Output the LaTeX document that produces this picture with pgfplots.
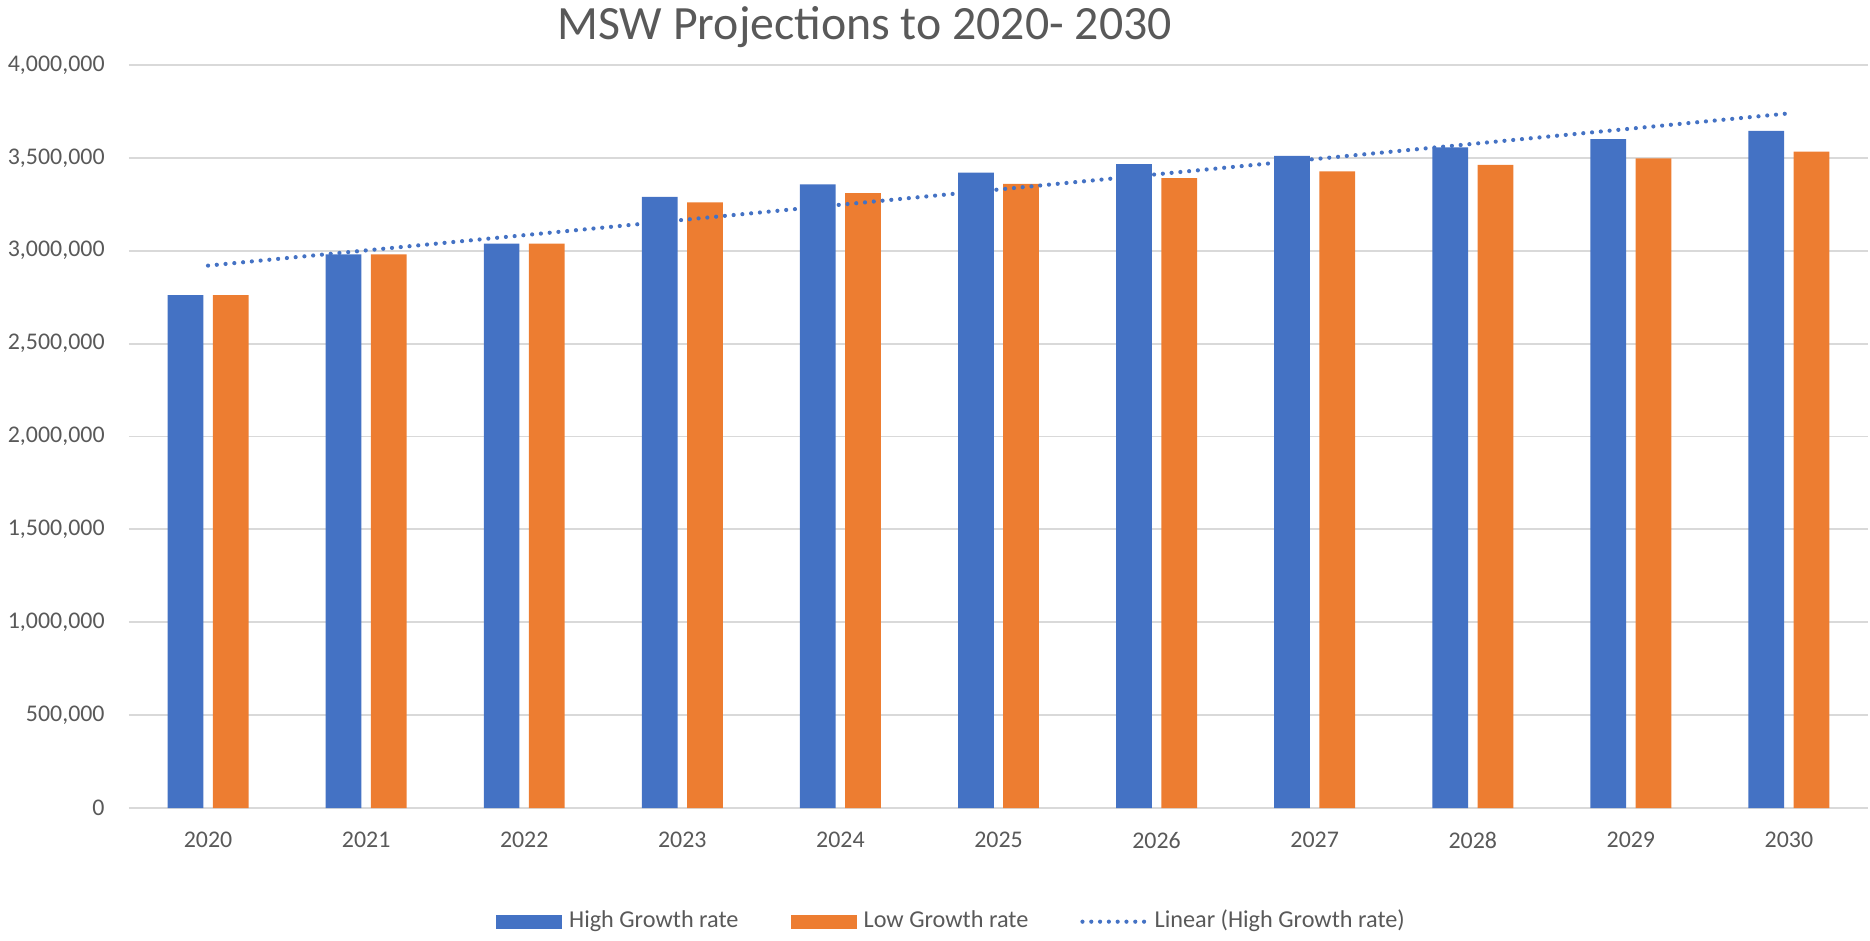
\documentclass[border=0pt]{standalone}
\usepackage{pgfplots}
\pgfplotsset{compat=1.18}
\usepackage{fontspec}
\setmainfont{Carlito}
\definecolor{cblue}{HTML}{4472C4}
\definecolor{corange}{HTML}{ED7D31}
\definecolor{ctext}{HTML}{595959}
\definecolor{cgrid}{HTML}{D9D9D9}
\begin{document}
\begin{tikzpicture}
\begin{axis}[
  at={(0,0)}, anchor=south west,
  width=173.9mm, height=74.3mm, scale only axis,
  xmin=-0.5, xmax=10.5, ymin=0, ymax=4000000,
  axis line style={draw=none},
  major tick length=0pt,
  ymajorgrids, grid style={cgrid, line width=0.18mm},
  ytick={0,500000,1000000,1500000,2000000,2500000,3000000,3500000,4000000},
  scaled y ticks=false,
  /pgf/number format/fixed,
  /pgf/number format/1000 sep={,},
  /pgf/number format/assume math mode=true,
  yticklabel style={font=\fontsize{6.8}{8}\selectfont, text=ctext, xshift=-1.2mm},
  xtick={0,1,2,3,4,5,6,7,8,9,10},
  xticklabels={2020,2021,2022,2023,2024,2025,2026,2027,2028,2029,2030},
  xticklabel style={font=\fontsize{6.8}{8}\selectfont, text=ctext, yshift=-1.2mm},
  every axis title shift=0pt,
  title={MSW Projections to 2020- 2030},
  title style={at={(0.423,1)}, anchor=base, yshift=2.6mm, inner sep=0pt,
    font=\fontsize{13.6}{15}\selectfont, text=ctext},
  legend style={at={(0.4744,-0.153)}, anchor=center, draw=none, fill=none,
    legend columns=3, font=\fontsize{6.9}{8}\selectfont, text=ctext,
    /tikz/every even column/.append style={column sep=4.5mm}},
]
\addplot[ybar, bar width=0.226, bar shift=-0.143, fill=cblue, draw=none,
  legend image code/.code={\fill[cblue] (0mm,-0.7mm) rectangle (6.6mm,0.7mm);}]
  coordinates {(0,2761000) (1,2980000) (2,3038000) (3,3290000) (4,3357000) (5,3421000)
               (6,3466000) (7,3511000) (8,3556000) (9,3601000) (10,3646000)};
\addlegendentry{High Growth rate}
\addplot[ybar, bar width=0.226, bar shift=0.143, fill=corange, draw=none,
  legend image code/.code={\fill[corange] (0mm,-0.7mm) rectangle (6.6mm,0.7mm);}]
  coordinates {(0,2761000) (1,2980000) (2,3038000) (3,3260000) (4,3310000) (5,3360000)
               (6,3391000) (7,3428000) (8,3462000) (9,3498000) (10,3534000)};
\addlegendentry{Low Growth rate}
\addplot[cblue, line width=0.42mm, line cap=round, dash pattern=on 0pt off 0.88mm,
  legend image code/.code={\draw[cblue, line width=0.42mm, line cap=round, dash pattern=on 0pt off 0.88mm] (0.3mm,0) -- (6.6mm,0);}]
  coordinates {(0,2920000) (10,3739500)};
\addlegendentry{Linear (High Growth rate)}
\end{axis}
\pgfresetboundingbox
\path[use as bounding box] (-12.9mm,-13.2mm) rectangle (174.1mm,80.8mm);
\end{tikzpicture}
\end{document}
